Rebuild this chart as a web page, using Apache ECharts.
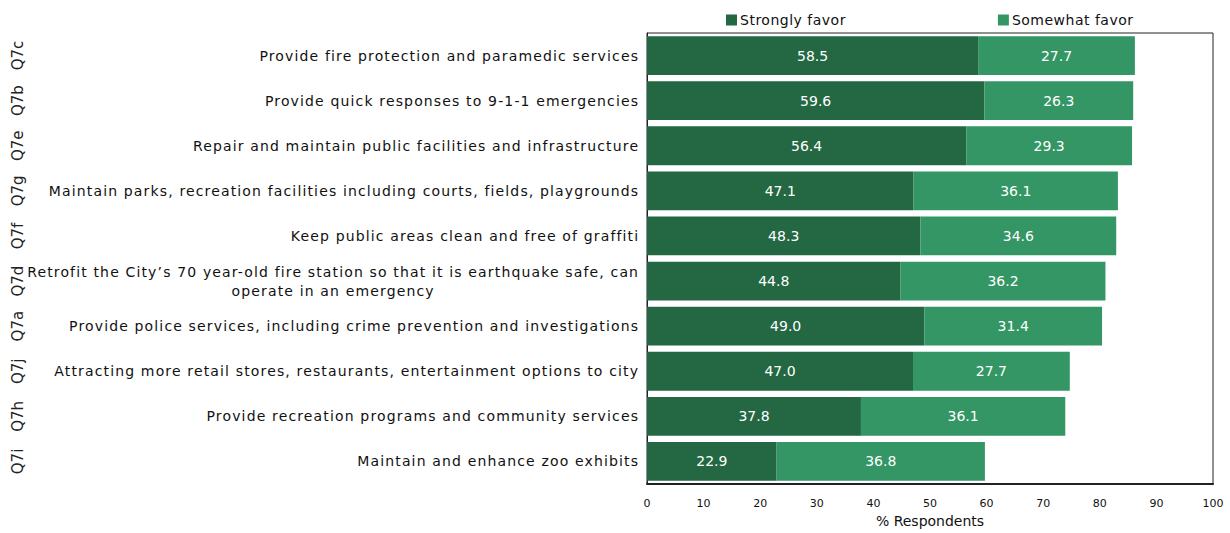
<!DOCTYPE html>
<html>
<head>
<meta charset="utf-8">
<script src="https://cdn.jsdelivr.net/npm/echarts@6/dist/echarts.min.js"></script>
<style>
  html, body { margin: 0; padding: 0; background: #fff; overflow: hidden; }
  #chart { width: 1230px; height: 533px; }
</style>
</head>
<body>
<div id="chart"></div>
<script>
// Survey items, top to bottom
const codes = ['Q7c', 'Q7b', 'Q7e', 'Q7g', 'Q7f', 'Q7d', 'Q7a', 'Q7j', 'Q7h', 'Q7i'];
const items = [
  'Provide fire protection and paramedic services',
  'Provide quick responses to 9-1-1 emergencies',
  'Repair and maintain public facilities and infrastructure',
  'Maintain parks, recreation facilities including courts, fields, playgrounds',
  'Keep public areas clean and free of graffiti',
  'Retrofit the City\u2019s 70 year-old fire station so that it is earthquake safe, can\noperate in an emergency',
  'Provide police services, including crime prevention and investigations',
  'Attracting more retail stores, restaurants, entertainment options to city',
  'Provide recreation programs and community services',
  'Maintain and enhance zoo exhibits'
];
const stronglyFavor = [58.5, 59.6, 56.4, 47.1, 48.3, 44.8, 49.0, 47.0, 37.8, 22.9];
const somewhatFavor = [27.7, 26.3, 29.3, 36.1, 34.6, 36.2, 31.4, 27.7, 36.1, 36.8];
const seriesNames = ['Strongly favor', 'Somewhat favor'];
const xTicks = { min: 0, max: 100, interval: 10 };

const DARK = '#236843';
const LIGHT = '#339664';
const FONT = 'DejaVu Sans';
const ITEM_TRACKING = 1.15;   // px of letter spacing on the item names
const LEGEND_TRACKING = 0.5;

const chart = echarts.init(document.getElementById('chart'), null, { renderer: 'svg', width: 1230, height: 533 });

const barLabel = {
  show: true,
  position: 'inside',
  color: '#fff',
  fontFamily: FONT,
  fontSize: 14,
  formatter: p => p.value.toFixed(1)
};

chart.setOption({
  animation: false,
  textStyle: { fontFamily: FONT },
  legend: {
    top: 13,
    left: 726,
    padding: 0,
    icon: 'rect',
    itemWidth: 11,
    itemHeight: 11,
    itemGap: 159,
    textStyle: { fontFamily: FONT, fontSize: 14, color: '#111', padding: [0, 0, 0, -2] },
    data: seriesNames
  },
  grid: {
    left: 647,
    width: 566,
    top: 33,
    height: 457,
    show: true,
    borderColor: '#222',
    borderWidth: 1
  },
  xAxis: {
    type: 'value',
    min: xTicks.min,
    max: xTicks.max,
    interval: xTicks.interval,
    name: '% Respondents',
    nameLocation: 'middle',
    nameGap: 30,
    nameTextStyle: { fontFamily: FONT, fontSize: 14, color: '#111' },
    axisLine: { show: true, lineStyle: { color: '#222', width: 2 } },
    axisTick: { show: false },
    splitLine: { show: false },
    axisLabel: { fontFamily: FONT, fontSize: 11, color: '#111', margin: 14 }
  },
  yAxis: [
    {
      type: 'category',
      inverse: true,
      data: items,
      axisLine: { show: true, lineStyle: { color: '#222' } },
      axisTick: { show: false },
      axisLabel: {
        margin: 9,
        formatter: v => '{c|' + v.split('\n').join('}\n{c|') + '}',
        rich: {
          c: { align: 'center', fontFamily: FONT, fontSize: 14, color: '#111', lineHeight: 19 }
        }
      }
    },
    {
      type: 'category',
      inverse: true,
      position: 'left',
      offset: 614,
      data: codes,
      axisLine: { show: false },
      axisTick: { show: false },
      axisLabel: {
        rotate: 90,
        fontFamily: FONT,
        fontSize: 15,
        color: '#222'
      }
    }
  ],
  series: [
    {
      name: seriesNames[0],
      type: 'bar',
      stack: 'favor',
      barCategoryGap: '14%',
      itemStyle: { color: DARK },
      label: barLabel,
      data: stronglyFavor
    },
    {
      name: seriesNames[1],
      type: 'bar',
      stack: 'favor',
      barCategoryGap: '14%',
      itemStyle: { color: LIGHT },
      label: barLabel,
      data: somewhatFavor
    }
  ]
});

// Wide tracking on the item names. The lines are centred on their anchor, so
// each line is moved left to keep the block's right edge next to the axis.
const lineShift = new Map();
items.forEach(s => {
  const lines = s.split('\n');
  const longest = Math.max(...lines.map(l => l.length));
  const shift = -longest * ITEM_TRACKING / 2 + ITEM_TRACKING;
  lines.forEach(l => lineShift.set(l, shift));
});
const legendNames = new Set(seriesNames);
document.querySelectorAll('#chart svg text').forEach(t => {
  const txt = t.textContent;
  if (lineShift.has(txt)) {
    t.setAttribute('letter-spacing', String(ITEM_TRACKING));
    const x = parseFloat(t.getAttribute('x') || '0');
    t.setAttribute('x', String(x + lineShift.get(txt)));
  } else if (legendNames.has(txt)) {
    t.setAttribute('letter-spacing', String(LEGEND_TRACKING));
  }
});
</script>
</body>
</html>
